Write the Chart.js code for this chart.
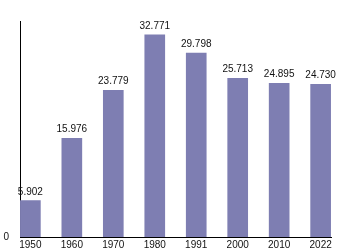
<!DOCTYPE html>
<html>
<head>
<meta charset="utf-8">
<script src="https://cdn.jsdelivr.net/npm/chart.js@4/dist/chart.umd.min.js"></script>
<style>
  html, body { margin: 0; padding: 0; background: #fff; }
  #wrap { width: 350px; height: 250px; }
</style>
</head>
<body>
<div id="wrap"><canvas id="c" width="350" height="250"></canvas></div>
<script>
const categories = ["1950", "1960", "1970", "1980", "1991", "2000", "2010", "2022"];
const populationValues = [5.902, 15.976, 23.779, 32.771, 29.798, 25.713, 24.895, 24.730];
const yTickValues = [0];

const FONT = '"Liberation Sans", Arial, sans-serif';

const valueLabels = {
  id: 'valueLabels',
  afterDatasetsDraw(chart) {
    const ctx = chart.ctx;
    const meta = chart.getDatasetMeta(0);
    ctx.save();
    ctx.font = '10px ' + FONT;
    ctx.fillStyle = '#111';
    ctx.textAlign = 'center';
    ctx.textBaseline = 'alphabetic';
    meta.data.forEach((bar, i) => {
      ctx.fillText(populationValues[i].toFixed(3), bar.x, bar.y - 6);
    });
    ctx.restore();
  }
};

new Chart(document.getElementById('c'), {
  type: 'bar',
  data: {
    datasets: [{
      data: populationValues.map((v, i) => ({ x: i, y: v })),
      backgroundColor: 'rgb(126,126,178)',
      borderWidth: 0,
      barThickness: 20
    }]
  },
  options: {
    responsive: false,
    animation: false,
    devicePixelRatio: 1,
    layout: { padding: { top: 21, right: 19, left: 0, bottom: 0 } },
    plugins: { legend: { display: false }, tooltip: { enabled: false } },
    scales: {
      x: {
        type: 'linear',
        offset: false,
        min: -0.25,
        max: 7.25,
        grid: { display: false, drawTicks: false, offset: false },
        border: { display: true, color: '#000', width: 1 },
        afterBuildTicks(axis) { axis.ticks = categories.map((c, i) => ({ value: i })); },
        afterFit(axis) { axis.height = 13; },
        ticks: {
          autoSkip: false,
          maxRotation: 0,
          padding: 2,
          color: '#111',
          font: { family: FONT, size: 10 },
          callback: (v) => categories[v]
        }
      },
      y: {
        min: 0,
        max: 35,
        grid: { display: false, drawTicks: false },
        border: { display: true, color: '#000', width: 1 },
        afterBuildTicks(axis) { axis.ticks = yTickValues.map(v => ({ value: v })); },
        afterFit(axis) { axis.width = 20; axis.paddingTop = 0; axis.paddingBottom = 0; },
        ticks: {
          padding: 11,
          color: '#111',
          font: { family: FONT, size: 10 },
          callback: (v) => String(v)
        }
      }
    }
  },
  plugins: [valueLabels]
});
</script>
</body>
</html>
